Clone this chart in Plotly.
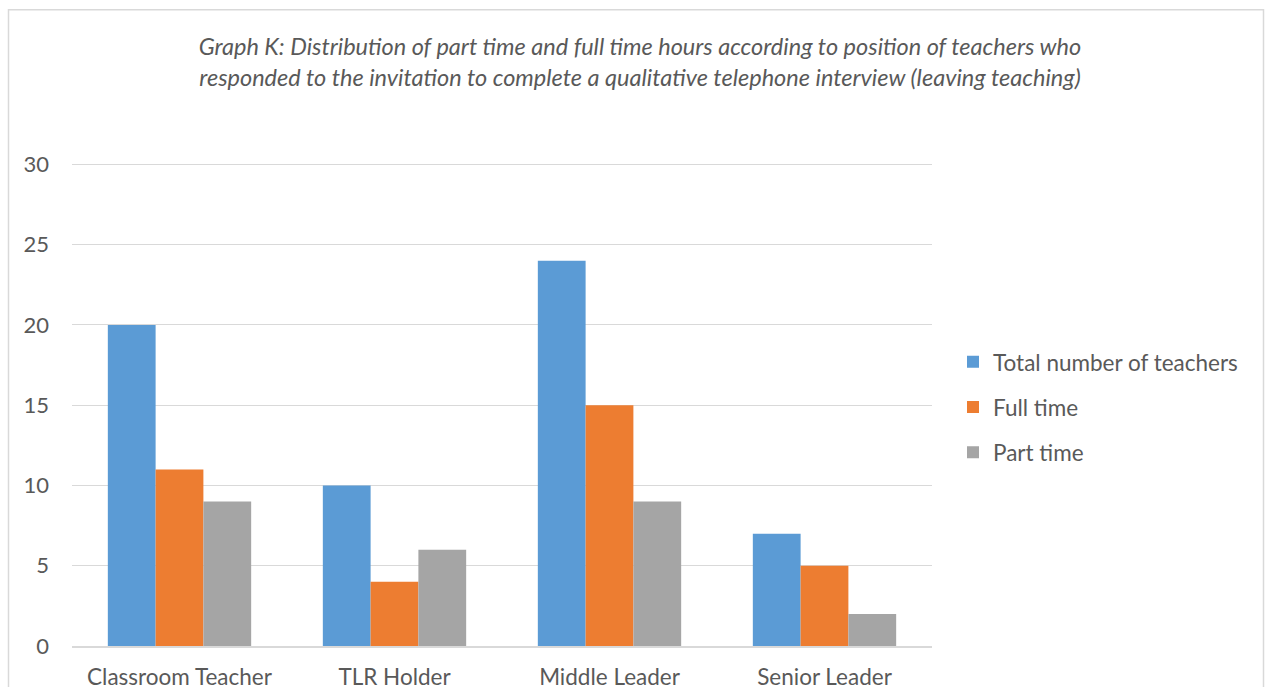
import plotly.graph_objects as go

categories = ["Classroom Teacher", "TLR Holder", "Middle Leader", "Senior Leader"]
total_teachers = [20, 10, 24, 7]
full_time = [11, 4, 15, 5]
part_time = [9, 6, 9, 2]
series_names = ["Total number of teachers", "Full time", "Part time"]
colors = ["#5B9BD5", "#ED7D31", "#A5A5A5"]
y_ticks = [0, 5, 10, 15, 20, 25, 30]
title_text = ("Graph K: Distribution of part time and full time hours according to position of teachers who"
              "<br>responded to the invitation to complete a qualitative telephone interview (leaving teaching)")

FONT = "Lato, Calibri, Carlito, sans-serif"
TXT = "#595959"

fig = go.Figure()
for i, (name, vals) in enumerate(zip(series_names, [total_teachers, full_time, part_time])):
    fig.add_trace(go.Bar(x=categories, y=vals, name=name, marker_color=colors[i],
                         marker_line_width=0, legendgroup=f"g{i}"))

# plot area: x 72..932, y 164.5..645.7 (range slightly above 30 so the top gridline shows)
YMAX = 30.15
W, H = 1265, 687
L, R, B = 72, 333, 41.3
unit = (645.7 - 164.5) / 30
T = 164.5 - (YMAX - 30) * unit
pw, ph = W - L - R, H - T - B

def px_x(x):
    return (x - L) / pw

def px_y(y):
    return (H - B - y) / ph

fig.update_layout(
    width=W, height=H,
    margin=dict(l=L, r=R, t=T, b=B, pad=0, autoexpand=False),
    paper_bgcolor="white", plot_bgcolor="white",
    barmode="group", bargap=1/3, bargroupgap=0,
    font=dict(family=FONT, color=TXT, size=22),
    title=dict(text=title_text, x=640/W, xanchor="center", xref="container", y=1 - 55/H, yanchor="middle",
               font=dict(family=FONT, size=23.5, color=TXT, style="italic")),
    xaxis=dict(showgrid=False, showline=True, linecolor="#D9D9D9", linewidth=1.5, automargin=False,
               tickfont=dict(size=22.5, color=TXT), ticks="", ticklabelstandoff=10, fixedrange=True),
    yaxis=dict(range=[0, YMAX], tickvals=y_ticks, showgrid=True, gridcolor="#D9D9D9", gridwidth=1.3,
               zeroline=False, showline=False, ticks="", ticklabelstandoff=22, automargin=False,
               tickfont=dict(size=22, color=TXT)),
    legend=dict(x=px_x(953), y=px_y(407), xanchor="left", yanchor="middle",
                font=dict(size=22.5, color=TXT), tracegroupgap=13, itemwidth=30,
                traceorder="grouped", bgcolor="rgba(0,0,0,0)"),
    showlegend=True,
    shapes=[dict(type="rect", xref="paper", yref="paper",
                 x0=px_x(8.5), x1=px_x(1263.5), y0=px_y(700), y1=px_y(10),
                 line=dict(color="#D9D9D9", width=1.5), fillcolor="rgba(0,0,0,0)", layer="below")],
)

fig.write_html("out.html")
